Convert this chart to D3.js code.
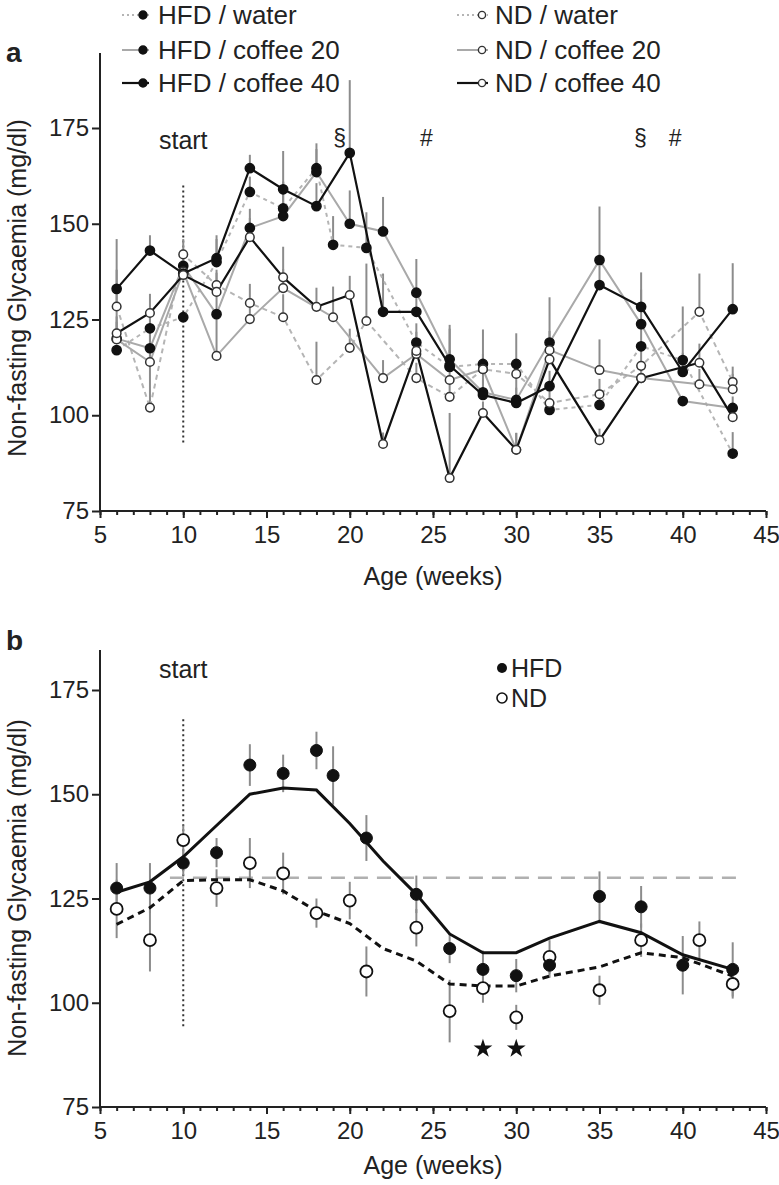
<!DOCTYPE html>
<html><head><meta charset="utf-8">
<script src="https://cdn.jsdelivr.net/npm/d3@7"></script>
<style>
body{margin:0;background:#fff;}
svg text{font-family:"Liberation Sans",Arial,Helvetica,sans-serif;fill:#222;}
</style></head>
<body><svg id="c" width="779" height="1185"></svg>
<script>
// ---------- data ----------
const xTicks = [5,10,15,20,25,30,35,40,45];
const yTicks = [75,100,125,150,175];

// Panel a series
const hfdWaterWeeks = [6,8,10,12,14,16,18,19,21,24,26,28,30,32,35,37.5,40,43];
const hfdWaterVals  = [117,122.7,125.6,140,158.3,154,164.5,144.5,143.7,119,112.6,113.4,113.4,101.4,102.7,118,114.4,90];
const hfdWaterErr   = [0,5,0,6,4,7,6.5,7.5,9.3,5,10,9,8,3,3,7,14,5.6];

const hfdC20Weeks = [6,8,10,12,14,16,18,20,22,24,26,28,30,32,35,37.5,40,43];
const hfdC20Vals  = [120,117.5,139,126.4,148.9,152,163.5,150,148,132,114.6,106,104,119,140.5,123.8,103.7,101.9];
const hfdC20Err   = [26,5,0,6,5,9,6,8.7,9,8.8,9,9,8,11.8,14,9,0,3];

const hfdC40Weeks = [6,8,10,12,14,16,18,20,22,24,26,28,30,32,35,37.5,40,43];
const hfdC40Vals  = [133,143,137,141,164.5,159,154.6,168.5,127,127,113,105.3,103.2,107.6,134,128.3,111.3,127.7];
const hfdC40Err   = [5,4,5,6,3.5,10,6,19,10,5,4,4,4,4,5,9,5,12];

const ndWaterWeeks = [6,8,10,12,14,16,18,20,21,24,26,28,30,32,35,37.5,41,43];
const ndWaterVals  = [128.4,102,142,134,129.3,125.6,109.2,117.6,124.6,109.7,104.8,112,110.8,103.2,105.5,112.9,127,108.7];
const ndWaterErr   = [5,24,4,4,5,6,10,5,15,4,5,4,3,5,4,4,10,4];

const ndC20Weeks = [6,8,10,12,14,16,19,22,24,26,28,30,32,35,37.5,41,43];
const ndC20Vals  = [119.8,113.9,137.5,115.5,125.1,133.2,125.6,109.7,116,109.2,112,91,117,111.8,109.7,108.1,106.8];
const ndC20Err   = [6,4,4,11,4,5,8,4.7,4,4,4,4.4,5,8,3,4,4];

const ndC40Weeks = [6,8,10,12,14,16,18,20,22,24,26,28,30,32,35,37.5,41,43];
const ndC40Vals  = [121.4,126.7,136.6,132.2,146.5,136,128.3,131.4,92.5,116.8,83.6,100.6,91,114.6,93.5,109.7,113.7,99.5];
const ndC40Err   = [3,5,3,5,5,8,5,5,3,5,17,3,4.4,4,3,3,5,3];

// Panel b
const hfdWeeks = [6,8,10,12,14,16,18,19,21,24,26,28,30,32,35,37.5,40,43];
const hfdVals  = [127.5,127.5,133.5,136,157,155,160.5,154.5,139.5,126,113,108,106.5,109,125.5,123,109,108];
const hfdErr   = [6,6,3,3.5,5,4.5,4.5,7,5.5,4.5,3.5,4.5,4,3,6,5,7,6.5];
const ndWeeks  = [6,8,10,12,14,16,18,20,21,24,26,28,30,32,35,37.5,41,43];
const ndVals   = [122.5,115,139,127.5,133.5,131,121.5,124.5,107.5,118,98,103.5,96.5,111,103,115,115,104.5];
const ndErr    = [7,7.5,3.5,4.5,6,5,3.5,4.5,6,4.5,7.5,3.5,3,4,3.5,4,4.5,3.5];
const fitWeeks = [6,8,10,12,14,16,18,20,22,24,26,28,30,32,35,37.5,40,43];
const hfdFit   = [126.5,129,135,142.5,150,151.5,151,143,134,126,116.5,112,112,115.5,119.5,116.8,111.5,108];
const ndFit    = [118.8,122.8,129.3,129.5,129.5,126.8,122,119,113,110,104.5,104,104,106.4,108.6,112,110.8,106.4];
const refLevel = 130;
const starWeeks = [28,30];
const starLevel = 89;

// ---------- drawing ----------
const svg = d3.select("#c");
const GRAY = "#a9a9a9", ERR = "#8c8c8c";
const F = 25, FT = 24;

function axes(g, x, y, topY, letter, letterY, titleY, ageOff){
  const bottom = y(75);
  g.append("line").attr("x1",x(5)).attr("x2",x(5)).attr("y1",topY).attr("y2",bottom).attr("stroke","#222").attr("stroke-width",2);
  const ya = g.append("g").attr("transform",`translate(${x(5)},0)`)
    .call(d3.axisLeft(y).tickValues(yTicks).tickSize(8).tickPadding(3).tickFormat(d3.format("d")));
  ya.select(".domain").remove();
  ya.selectAll("line").attr("stroke","#222").attr("stroke-width",2);
  ya.selectAll("text").style("font-size",FT+"px").attr("fill","#222");
  g.append("line").attr("x1",x(5)).attr("x2",x(45)).attr("y1",bottom).attr("y2",bottom).attr("stroke","#222").attr("stroke-width",2);
  const xm = g.append("g").attr("transform",`translate(0,${bottom})`)
    .call(d3.axisBottom(x).tickValues(d3.range(5,46)).tickSize(4).tickFormat(""));
  xm.select(".domain").remove();
  xm.selectAll("line").attr("stroke","#222").attr("stroke-width",2);
  const xa = g.append("g").attr("transform",`translate(0,${bottom})`)
    .call(d3.axisBottom(x).tickValues(xTicks).tickSize(7).tickPadding(8).tickFormat(d3.format("d")));
  xa.select(".domain").remove();
  xa.selectAll("line").attr("stroke","#222").attr("stroke-width",2);
  xa.selectAll("text").style("font-size",FT+"px").attr("fill","#222");
  g.append("text").attr("x",(x(5)+x(45))/2).attr("y",bottom+ageOff).attr("text-anchor","middle").style("font-size",F+"px").text("Age (weeks)");
  g.append("text").attr("transform",`translate(26,${titleY}) rotate(-90)`).attr("text-anchor","middle").style("font-size",F+"px").text("Non-fasting Glycaemia (mg/dl)");
  g.append("text").attr("x",6).attr("y",letterY).style("font-size","28px").style("font-weight","bold").text(letter);
}

// ===== Panel a =====
const xA = d3.scaleLinear([5,45],[100,766]);
const yA = d3.scaleLinear([75,175],[511,128]);
const gA = svg.append("g");
axes(gA, xA, yA, 53, "a", 62, 288, 74);

const seriesA = [
  {name:"HFD / water",   w:hfdWaterWeeks, v:hfdWaterVals, e:hfdWaterErr, color:"#b5b5b5", dash:"4,4", width:2, fill:true},
  {name:"HFD / coffee 20",w:hfdC20Weeks,  v:hfdC20Vals,  e:hfdC20Err,  color:GRAY, dash:null, width:2, fill:true},
  {name:"HFD / coffee 40",w:hfdC40Weeks,  v:hfdC40Vals,  e:hfdC40Err,  color:"#111", dash:null, width:2.2, fill:true},
  {name:"ND / water",    w:ndWaterWeeks,  v:ndWaterVals, e:ndWaterErr, color:"#b5b5b5", dash:"5,4", width:2, fill:false},
  {name:"ND / coffee 20",w:ndC20Weeks,    v:ndC20Vals,   e:ndC20Err,   color:GRAY, dash:null, width:2, fill:false},
  {name:"ND / coffee 40",w:ndC40Weeks,    v:ndC40Vals,   e:ndC40Err,   color:"#111", dash:null, width:2.2, fill:false}
];

gA.append("line").attr("x1",xA(10)).attr("x2",xA(10)).attr("y1",yA(160)).attr("y2",yA(92.5))
  .attr("stroke","#333").attr("stroke-width",2).attr("stroke-dasharray","2,3");
gA.append("text").attr("x",xA(10)).attr("y",yA(169.5)).attr("text-anchor","middle").style("font-size",F+"px").text("start");
seriesA.forEach(s=>{
  gA.append("g").selectAll("line").data(s.w.map((w,i)=>({w,v:s.v[i],e:s.e[i]}))).join("line")
    .attr("x1",d=>xA(d.w)).attr("x2",d=>xA(d.w)).attr("y1",d=>yA(d.v)).attr("y2",d=>yA(d.v+d.e))
    .attr("stroke",ERR).attr("stroke-width",2);
});
const orderA = [0,3,1,4,2,5];
orderA.forEach(k=>{
  const s = seriesA[k];
  gA.append("path").datum(s.w.map((w,i)=>[w,s.v[i]]))
    .attr("d",d3.line().x(d=>xA(d[0])).y(d=>yA(d[1])))
    .attr("fill","none").attr("stroke",s.color).attr("stroke-width",s.width)
    .attr("stroke-dasharray",s.dash);
});
orderA.forEach(k=>{
  const s = seriesA[k];
  gA.append("g").selectAll("circle").data(s.w.map((w,i)=>[w,s.v[i]])).join("circle")
    .attr("cx",d=>xA(d[0])).attr("cy",d=>yA(d[1])).attr("r",s.fill?4.6:4.3)
    .attr("fill",s.fill?"#111":"#fff").attr("stroke",s.fill?"#111":"#333").attr("stroke-width",1.5);
});
const marks = [["§",19.4],["#",24.6],["§",37.45],["#",39.55]];
marks.forEach(([t,w])=>gA.append("text").attr("x",xA(w)).attr("y",yA(170.2)).attr("text-anchor","middle").style("font-size","23px").text(t));

const legY = [15,50,83];
seriesA.forEach((s,i)=>{
  const col = i<3?0:1, row=i%3;
  const lx = col===0?122:457, mx = col===0?143:482, tx = col===0?158:495;
  const y = legY[row];
  gA.append("line").attr("x1",lx).attr("x2",mx+6).attr("y1",y).attr("y2",y)
    .attr("stroke",s.color).attr("stroke-width",s.width).attr("stroke-dasharray",s.dash?"2,3":null);
  gA.append("circle").attr("cx",mx).attr("cy",y).attr("r",s.fill?4:3.6)
    .attr("fill",s.fill?"#111":"#fff").attr("stroke",s.fill?"#111":"#333").attr("stroke-width",1.4);
  gA.append("text").attr("x",tx).attr("y",y+9).style("font-size","26px").text(s.name);
});

// ===== Panel b =====
const xB = d3.scaleLinear([5,45],[100,766]);
const yB = d3.scaleLinear([75,175],[1107,690]);
const gB = svg.append("g");
axes(gB, xB, yB, 650, "b", 650, 888, 67);

gB.append("line").attr("x1",xB(9.2)).attr("x2",xB(43.2)).attr("y1",yB(refLevel)).attr("y2",yB(refLevel))
  .attr("stroke","#b0b0b0").attr("stroke-width",2.5).attr("stroke-dasharray","14,9");
gB.append("line").attr("x1",xB(10)).attr("x2",xB(10)).attr("y1",yB(168)).attr("y2",yB(94))
  .attr("stroke","#333").attr("stroke-width",2).attr("stroke-dasharray","2,3");
gB.append("text").attr("x",xB(10)).attr("y",678).attr("text-anchor","middle").style("font-size",F+"px").text("start");

const errB = (w,v,e)=>{
  gB.append("g").selectAll("line").data(w.map((d,i)=>({w:d,v:v[i],e:e[i]}))).join("line")
    .attr("x1",d=>xB(d.w)).attr("x2",d=>xB(d.w)).attr("y1",d=>yB(d.v-d.e)).attr("y2",d=>yB(d.v+d.e))
    .attr("stroke",ERR).attr("stroke-width",2);
};
errB(hfdWeeks,hfdVals,hfdErr);
errB(ndWeeks,ndVals,ndErr);

gB.append("path").datum(fitWeeks.map((w,i)=>[w,ndFit[i]]))
  .attr("d",d3.line().x(d=>xB(d[0])).y(d=>yB(d[1])))
  .attr("fill","none").attr("stroke","#111").attr("stroke-width",3).attr("stroke-dasharray","7,5");
gB.append("path").datum(fitWeeks.map((w,i)=>[w,hfdFit[i]]))
  .attr("d",d3.line().x(d=>xB(d[0])).y(d=>yB(d[1])))
  .attr("fill","none").attr("stroke","#111").attr("stroke-width",3);

gB.append("g").selectAll("circle").data(ndWeeks.map((w,i)=>[w,ndVals[i]])).join("circle")
  .attr("cx",d=>xB(d[0])).attr("cy",d=>yB(d[1])).attr("r",6).attr("fill","#fff").attr("stroke","#111").attr("stroke-width",1.8);
gB.append("g").selectAll("circle").data(hfdWeeks.map((w,i)=>[w,hfdVals[i]])).join("circle")
  .attr("cx",d=>xB(d[0])).attr("cy",d=>yB(d[1])).attr("r",6).attr("fill","#111").attr("stroke","#111");

const star = d3.symbol().type(d3.symbolStar).size(110);
gB.append("g").selectAll("path").data(starWeeks).join("path")
  .attr("d",star).attr("transform",d=>`translate(${xB(d)},${yB(starLevel)})`).attr("fill","#111");

gB.append("circle").attr("cx",502).attr("cy",668).attr("r",5).attr("fill","#111");
gB.append("text").attr("x",511).attr("y",677).style("font-size",F+"px").text("HFD");
gB.append("circle").attr("cx",502).attr("cy",698).attr("r",5).attr("fill","#fff").attr("stroke","#111").attr("stroke-width",1.6);
gB.append("text").attr("x",511).attr("y",707).style("font-size",F+"px").text("ND");
</script></body></html>
